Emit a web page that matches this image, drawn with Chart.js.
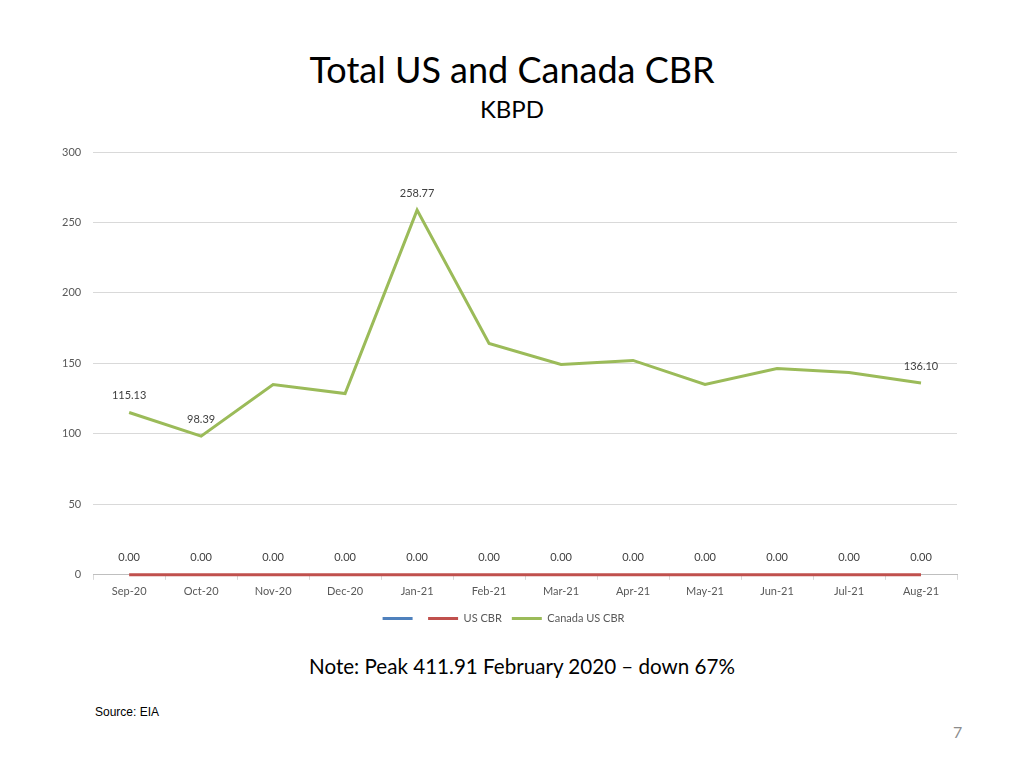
<!DOCTYPE html>
<html>
<head>
<meta charset="utf-8">
<script src="https://cdn.jsdelivr.net/npm/chart.js@4.4.1/dist/chart.umd.min.js"></script>
<style>
  body { margin: 0; background: #fff; width: 1024px; height: 768px; position: relative; overflow: hidden; }
  #titulo { position: absolute; top: 48px; left: 0; width: 1024px; text-align: center; font-family: Lato, sans-serif; font-size: 36px; line-height: 43px; color: #000; }
  #sub { position: absolute; top: 94px; left: 0; width: 1024px; text-align: center; font-family: Lato, sans-serif; font-size: 24px; line-height: 29px; color: #000; }
  #wrap { position: absolute; left: 0; top: 0; width: 1024px; height: 650px; }
  #note { position: absolute; top: 654px; left: 0; width: 1044px; text-align: center; font-family: Lato, sans-serif; font-size: 20.6px; color: #000; }
  #source { position: absolute; left: 95px; top: 705px; font-family: "Liberation Sans", Arial, sans-serif; font-size: 12px; color: #000; }
  #page { position: absolute; left: 953px; top: 722px; font-family: Lato, sans-serif; font-size: 16px; color: #8c8c8c; }
</style>
</head>
<body>
<div id="titulo">Total US and Canada CBR</div>
<div id="sub">KBPD</div>
<div id="wrap"><canvas id="canvas"></canvas></div>
<div id="note">Note: Peak 411.91 February 2020 – down 67%</div>
<div id="source">Source: EIA</div>
<div id="page">7</div>
<script>
var meses = ["Sep-20", "Oct-20", "Nov-20", "Dec-20", "Jan-21", "Feb-21", "Mar-21", "Apr-21", "May-21", "Jun-21", "Jul-21", "Aug-21"];
var usCbr = [0, 0, 0, 0, 0, 0, 0, 0, 0, 0, 0, 0];
var canadaUsCbr = [115.13, 98.39, 135.0, 128.6, 258.77, 164.2, 149.3, 152.1, 135.0, 146.4, 143.6, 136.10];
var semNome = [null, null, null, null, null, null, null, null, null, null, null, null];
var rotulosCanada = [0, 1, 4, 11];
var yTicks = [0, 50, 100, 150, 200, 250, 300];

function createDataset(color, name, dados, rotulos) {
    return {
        label: name,
        data: dados,
        borderColor: color,
        backgroundColor: color,
        borderWidth: 3,
        pointRadius: 0,
        pointHoverRadius: 0,
        fill: false,
        tension: 0,
        clip: 5,
        rotulos: rotulos
    };
}

// desenha os valores acima dos pontos
var valorPlugin = {
    id: 'valores',
    afterDatasetsDraw: function (chart) {
        var ctx = chart.ctx;
        ctx.save();
        ctx.font = '11px Lato, sans-serif';
        ctx.fillStyle = '#404040';
        ctx.textAlign = 'center';
        ctx.textBaseline = 'middle';
        chart.data.datasets.forEach(function (ds, i) {
            if (!ds.rotulos) return;
            var meta = chart.getDatasetMeta(i);
            ds.rotulos.forEach(function (idx) {
                var p = meta.data[idx];
                ctx.fillText(ds.data[idx].toFixed(2), p.x, p.y - 17);
            });
        });
        ctx.restore();
    }
};

var config = {
    type: 'line',
    data: {
        labels: meses,
        datasets: [
            createDataset('#4F81BD', '', semNome, null),
            createDataset('#C0504D', 'US CBR', usCbr, [0, 1, 2, 3, 4, 5, 6, 7, 8, 9, 10, 11]),
            createDataset('#9BBB59', 'Canada US CBR', canadaUsCbr, rotulosCanada)
        ]
    },
    options: {
        responsive: true,
        maintainAspectRatio: false,
        animation: false,
        layout: { padding: { top: 152, left: 50, right: 67, bottom: 16 } },
        plugins: {
            tooltip: { enabled: false },
            legend: {
                position: 'bottom',
                labels: {
                    usePointStyle: true,
                    pointStyle: 'line',
                    pointStyleWidth: 30,
                    font: { family: 'Lato, sans-serif', size: 11 },
                    color: '#595959',
                    padding: 10
                }
            }
        },
        scales: {
            x: {
                offset: true,
                grid: { display: true, drawOnChartArea: false, drawTicks: true, tickLength: 5, color: '#d9d9d9', offset: true },
                border: { color: '#bfbfbf' },
                ticks: { font: { family: 'Lato, sans-serif', size: 11 }, color: '#595959', padding: 5 }
            },
            y: {
                min: 0,
                max: 300,
                afterBuildTicks: function (axis) {
                    axis.ticks = yTicks.map(function (v) { return { value: v }; });
                },
                grid: { color: '#d9d9d9', drawTicks: false },
                border: { display: false },
                ticks: { font: { family: 'Lato, sans-serif', size: 11 }, color: '#595959', padding: 12 }
            }
        }
    },
    plugins: [valorPlugin]
};

var ctx = document.getElementById('canvas').getContext('2d');
window.myLine = new Chart(ctx, config);
</script>
</body>
</html>
